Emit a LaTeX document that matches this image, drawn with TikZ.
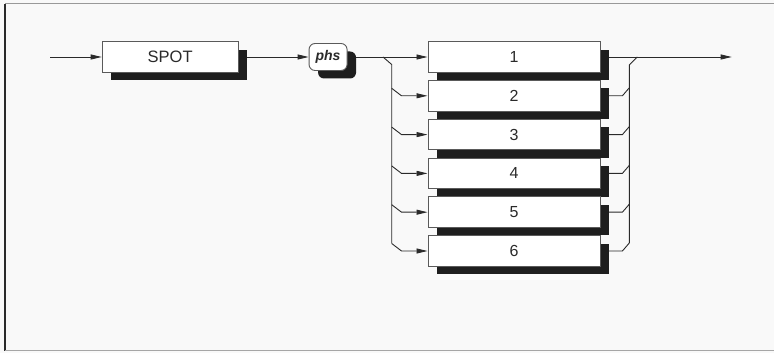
\documentclass[tikz,border=0pt]{standalone}
\usepackage{fontspec}
\setmainfont{Liberation Sans}
\usetikzlibrary{arrows.meta,positioning,shadows,backgrounds}
\definecolor{Page}{HTML}{F9F9F9}
\definecolor{Ink}{HTML}{2A2A2A}
\definecolor{Rim}{HTML}{5A5A5A}
\definecolor{Shade}{HTML}{1E1E1E}
\tikzset{
  railbox/.style={draw=Rim,fill=white,line width=0.9pt,minimum height=30.6pt,inner sep=0pt,
    font=\fontsize{16}{18}\selectfont,text=Ink,
    drop shadow={shadow xshift=9pt,shadow yshift=-8pt,fill=Shade,opacity=1}},
  termbox/.style={railbox,rounded corners=6pt,minimum width=38pt,minimum height=27pt,
    font=\fontsize{14}{16}\selectfont\bfseries\itshape},
  rail/.style={draw=Ink,line width=0.9pt},
  flow/.style={rail,-{Triangle[length=11pt,width=5pt]}}
}
\begin{document}
\begin{tikzpicture}[x=1pt,y=1pt]
  \useasboundingbox (0,0) rectangle (774,353);
  \coordinate (in) at (50,296);
  \node[railbox,minimum width=136pt,right=51.7pt of in,font=\fontsize{16.5}{18}\selectfont] (spot) {SPOT};
  \node[termbox,right=70pt of spot] (phs) {phs};
  \node[railbox,minimum width=172pt,right=80pt of phs] (opt1) {1};
  \foreach \i [count=\j] in {2,...,6}
    \node[railbox,minimum width=172pt,below=7.3pt of opt\j] (opt\i) {\i};
  \coordinate (out) at (731.7,296);
  % rails under the boxes
  \begin{pgfonlayer}{background}
    \fill[Page] (0,0) rectangle (774,353);
    \draw[flow] (in) -- (spot);
    \draw[flow] (spot) -- (phs);
    \draw[flow] (phs) -- (opt1);
    \draw[flow] (opt1) -- (out);
    \coordinate (lsplit) at (383,296);
    \coordinate (ltop) at (391.7,288.5);
    \coordinate (lbot) at ([yshift=7.5pt]opt6.west -| ltop);
    \draw[rail] (lsplit) -- (ltop) -- (lbot);
    \coordinate (rjoin) at (637.3,296);
    \coordinate (rtop) at (629.3,288);
    \coordinate (rbot) at ([yshift=8pt]opt6.east -| rtop);
    \draw[rail] (rjoin) -- (rtop) -- (rbot);
    \foreach \i in {2,...,6} {
      \draw[flow] ([yshift=7.5pt]opt\i.west -| ltop) -- ([xshift=-26pt]opt\i.west) -- (opt\i.west);
      \draw[rail] (opt\i.east) -- ([xshift=22pt]opt\i.east) -- ([yshift=8pt]opt\i.east -| rtop);
    }
  \end{pgfonlayer}
  % frame
  \draw[draw=Ink,line width=1.2pt] (5,2) -- (5,349);
  \draw[draw=black!40,line width=1pt] (5,349) -- (774,349);
  \draw[draw=black!35,line width=1pt] (5,2) -- (774,2);
\end{tikzpicture}
\end{document}
